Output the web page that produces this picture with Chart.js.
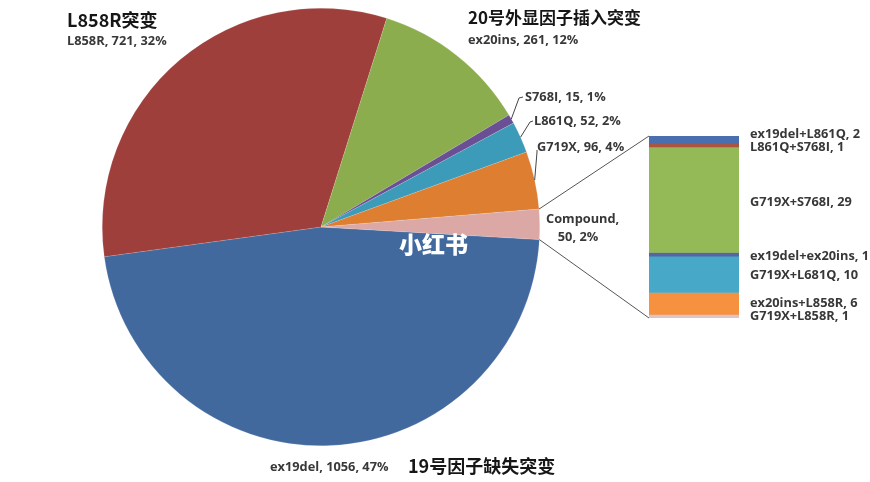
<!DOCTYPE html>
<html>
<head>
<meta charset="utf-8">
<script src="https://cdn.jsdelivr.net/npm/chart.js@4.4.1/dist/chart.umd.min.js"></script>
<style>
html, body { margin: 0; padding: 0; background: #fff; }
#wrap { position: relative; width: 870px; height: 482px; }
#wrap canvas { position: absolute; left: 0; top: 0; }
</style>
</head>
<body>
<div id="wrap">
    <canvas id="pieChart" width="870" height="482"></canvas>
    <canvas id="barChart" width="870" height="482"></canvas>
</div>
<script>
// main pie
const pieLabels = ['ex19del', 'L858R', 'ex20ins', 'S768I', 'L861Q', 'G719X', 'Compound'];
const pieValues = [1056, 721, 261, 15, 52, 96, 50];
const piePercents = ['47%', '32%', '12%', '1%', '2%', '4%', '2%'];
const pieColors = ['#41699e', '#9f3f3c', '#8cad4d', '#6b4f94', '#3b9bb9', '#de7e31', '#dba8a6'];
const pieTitles = { ex19del: '19号因子缺失突变', L858R: 'L858R突变', ex20ins: '20号外显因子插入突变' };

// compound breakdown bar
const compoundLabels = ['ex19del+L861Q', 'L861Q+S768I', 'G719X+S768I', 'ex19del+ex20ins', 'G719X+L681Q', 'ex20ins+L858R', 'G719X+L858R'];
const compoundValues = [2, 1, 29, 1, 10, 6, 1];
const compoundColors = ['#4a6faf', '#a9553f', '#94b957', '#5566a3', '#47a8c7', '#f5913f', '#dcc3c6'];

const latin = '"Open Sans", "Noto Sans CJK SC", sans-serif';
const cjk = '"Noto Sans CJK SC", "Open Sans", sans-serif';
const smallFont = 'bold 12.8px ' + latin;

function label(i) {
    return pieLabels[i] + ', ' + pieValues[i] + ', ' + piePercents[i];
}

const pieText = {
    id: 'pieText',
    afterDraw(chart) {
        const ctx = chart.ctx;
        const arcs = chart.getDatasetMeta(0).data;
        ctx.save();
        ctx.textBaseline = 'middle';
        ctx.textAlign = 'left';

        // big titles
        ctx.fillStyle = '#161616';
        ctx.font = 'bold 18px ' + cjk;
        ctx.fillText(pieTitles.L858R, 67, 20);
        ctx.fillText(pieTitles.ex19del, 408, 466);
        ctx.font = 'bold 17px ' + cjk;
        ctx.fillText(pieTitles.ex20ins, 468, 18);

        ctx.fillStyle = '#383838';
        ctx.font = smallFont;
        ctx.fillText(label(1), 67, 41);
        ctx.fillText(label(2), 468, 40);
        ctx.fillText(label(0), 270, 467);

        // small slices with leader lines
        const leaders = [
            { i: 3, elbow: [519, 98], end: [523, 97], text: [525, 97] },
            { i: 4, elbow: [530, 122], end: [533, 121], text: [534, 121] },
            { i: 5, elbow: [537, 152], end: [537, 150], text: [537, 147] }
        ];
        ctx.strokeStyle = '#444';
        ctx.lineWidth = 1;
        leaders.forEach(l => {
            const a = arcs[l.i];
            const mid = (a.startAngle + a.endAngle) / 2;
            const px = a.x + Math.cos(mid) * a.outerRadius;
            const py = a.y + Math.sin(mid) * a.outerRadius;
            ctx.beginPath();
            ctx.moveTo(px, py);
            ctx.lineTo(l.elbow[0], l.elbow[1]);
            ctx.lineTo(l.end[0], l.end[1]);
            ctx.stroke();
            ctx.fillText(label(l.i), l.text[0], l.text[1]);
        });

        // compound label
        ctx.fillText(pieLabels[6] + ',', 546, 219);
        ctx.textAlign = 'center';
        ctx.fillText(pieValues[6] + ', ' + piePercents[6], 578, 237);
        ctx.restore();
    }
};

const pieChart = new Chart(document.getElementById('pieChart'), {
    type: 'pie',
    data: {
        labels: pieLabels,
        datasets: [{
            data: pieValues,
            backgroundColor: pieColors,
            borderColor: 'rgba(255,255,255,0.25)',
            borderWidth: 0.5
        }]
    },
    options: {
        responsive: false,
        animation: false,
        rotation: 93.3,
        layout: { padding: { left: 102, right: 330, top: 8, bottom: 36 } },
        plugins: { legend: { display: false }, tooltip: { enabled: false } }
    },
    plugins: [pieText]
});

const barText = {
    id: 'barText',
    afterDraw(chart) {
        const ctx = chart.ctx;
        const first = chart.getDatasetMeta(0).data[0];
        const last = chart.getDatasetMeta(compoundValues.length - 1).data[0];
        const left = first.x - first.width / 2;
        const top = Math.min(first.y, first.base);
        const bottom = Math.max(last.y, last.base);

        // lines from the compound slice to the bar
        const arc = pieChart.getDatasetMeta(0).data[6];
        ctx.save();
        ctx.strokeStyle = '#555';
        ctx.lineWidth = 1;
        ctx.beginPath();
        ctx.moveTo(arc.x + Math.cos(arc.startAngle) * arc.outerRadius, arc.y + Math.sin(arc.startAngle) * arc.outerRadius);
        ctx.lineTo(left, top);
        ctx.moveTo(arc.x + Math.cos(arc.endAngle) * arc.outerRadius, arc.y + Math.sin(arc.endAngle) * arc.outerRadius);
        ctx.lineTo(left, bottom);
        ctx.stroke();

        // bar labels
        const labelY = [134, 147, 202, 256, 275, 303, 316];
        ctx.fillStyle = '#383838';
        ctx.font = smallFont;
        ctx.textBaseline = 'middle';
        ctx.textAlign = 'left';
        compoundLabels.forEach((name, i) => {
            ctx.fillText(name + ', ' + compoundValues[i], 750, labelY[i]);
        });

        // watermark
        ctx.fillStyle = '#fff';
        ctx.font = '900 23px ' + cjk;
        ctx.fillText('小红书', 399, 244);
        ctx.restore();
    }
};

new Chart(document.getElementById('barChart'), {
    type: 'bar',
    data: {
        labels: ['Compound'],
        datasets: compoundLabels.map((name, i) => ({
            label: name,
            data: [compoundValues[i]],
            backgroundColor: compoundColors[i],
            barPercentage: 1,
            categoryPercentage: 1
        }))
    },
    options: {
        responsive: false,
        animation: false,
        layout: { padding: { left: 649, right: 131, top: 136, bottom: 164 } },
        scales: {
            x: { stacked: true, display: false },
            y: { stacked: true, reverse: true, min: 0, max: 50, display: false }
        },
        plugins: { legend: { display: false }, tooltip: { enabled: false } }
    },
    plugins: [barText]
});
</script>
</body>
</html>
